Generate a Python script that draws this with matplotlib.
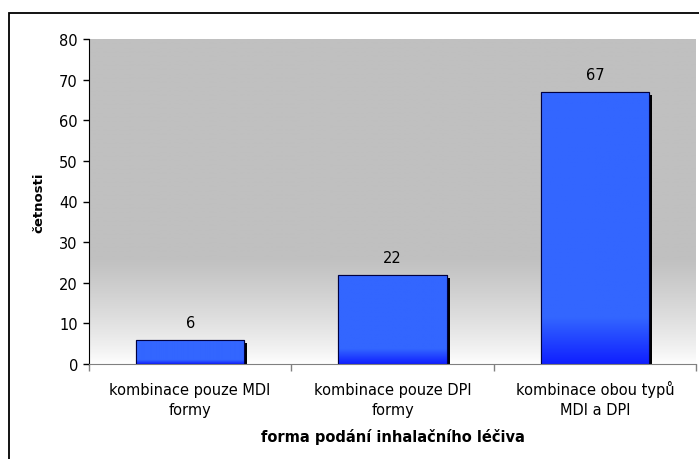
import numpy as np
import matplotlib.pyplot as plt
import matplotlib.patheffects as pe
from matplotlib.colors import LinearSegmentedColormap
from matplotlib.patches import Rectangle

categories = ['kombinace pouze MDI\nformy', 'kombinace pouze DPI\nformy',
              'kombinace obou typů\nMDI a DPI']
values = [6, 22, 67]

# the reference text is wide, DejaVu fills the same space better than Arial
plt.rcParams['font.family'] = ['DejaVu Sans']

fig = plt.figure(figsize=(6.99, 4.60), dpi=100)
ax = fig.add_axes([89 / 699, 1 - 365 / 460, 607 / 699, 325 / 460])

# outer frame (only left and top edges show in the picture)
fig.add_artist(Rectangle((9 / 699, -0.2), 1.2, 1 - 13.5 / 460 + 0.2,
                         transform=fig.transFigure, fill=False,
                         edgecolor='black', linewidth=1.3))

x = np.arange(len(values))
ax.set_xlim(-0.5, len(values) - 0.5)
ax.set_ylim(0, 80)

# gray background fading to white near the bottom
bg = np.clip(np.linspace(0, 80, 400) / 26.0, 0, 1) ** 0.8
bg_cmap = LinearSegmentedColormap.from_list('bg', ['#ffffff', '#c0c0c0'])
ax.imshow(bg[:, None], cmap=bg_cmap, aspect='auto', origin='lower',
          extent=(-0.5, len(values) - 0.5, 0, 80), zorder=0, vmin=0, vmax=1)

bars = ax.bar(x, values, width=0.535, color='#3366ff', edgecolor='#000040',
              linewidth=0.8, zorder=2)
for b in bars:
    b.set_path_effects([pe.SimplePatchShadow(offset=(2.2, -2.2),
                                             shadow_rgbFace='black', alpha=1),
                        pe.Normal()])

# darker blue toward the bottom of each bar
bar_cmap = LinearSegmentedColormap.from_list('bar', ['#1020ff', '#3366ff'])
for b, v in zip(bars, values):
    g = np.clip(np.linspace(0, 1, 200) / 0.17, 0, 1)
    im = ax.imshow(g[:, None], cmap=bar_cmap, aspect='auto', origin='lower',
                   extent=(b.get_x(), b.get_x() + b.get_width(), 0, v),
                   zorder=2.5, vmin=0, vmax=1)
    im.set_clip_path(b)
    ax.add_patch(Rectangle((b.get_x(), 0), b.get_width(), v, fill=False,
                           edgecolor='#000040', linewidth=0.8, zorder=3))
    ax.annotate(str(v), (b.get_x() + b.get_width() / 2, v), xytext=(0, 12.5),
                textcoords='offset points', ha='center', va='center',
                fontsize=10.5)

ax.set_xticks(np.arange(-0.5, len(values)), [''] * (len(values) + 1))
ax.set_xticks(x, categories, minor=True, fontsize=10.5, linespacing=1.4)
ax.tick_params(axis='x', which='major', length=5, width=1, color='#808080')
ax.tick_params(axis='x', which='minor', length=0, pad=36)
# baseline alignment so the ring on "ů" does not push one label down
for t in ax.get_xticklabels(minor=True):
    t.set_verticalalignment('baseline')
ax.set_yticks(np.arange(0, 81, 10))
ax.tick_params(axis='y', length=4, width=1, labelsize=10.5, pad=4)

for s in ['top', 'right']:
    ax.spines[s].set_visible(False)
ax.spines['bottom'].set_color('#808080')
ax.spines['left'].set_color('black')

ax.set_ylabel('četnosti', fontsize=9.5, fontweight='bold')
ax.yaxis.set_label_coords(-0.0725, 0.5)
ax.set_xlabel('forma podání inhalačního léčiva', fontsize=10.5,
              fontweight='bold')
ax.xaxis.set_label_coords(0.5, -0.197)

fig.savefig('out.png', dpi=100)
